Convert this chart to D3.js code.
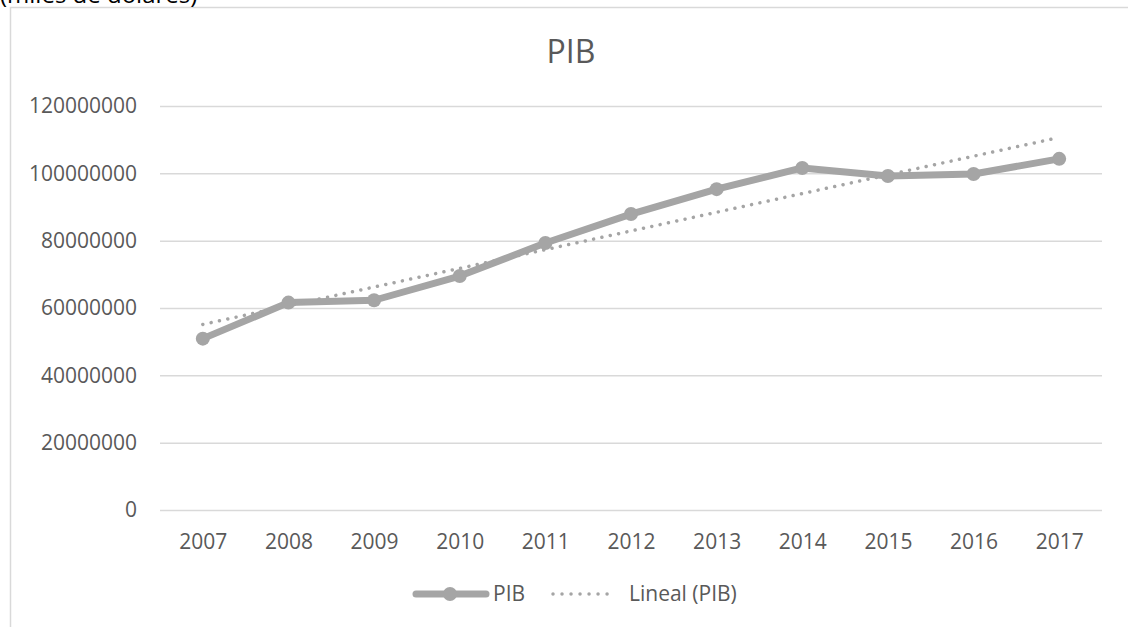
<!DOCTYPE html>
<html>
<head>
<meta charset="utf-8">
<script src="https://cdn.jsdelivr.net/npm/d3@7"></script>
<style>
  body { margin: 0; background: #fff; }
  svg { display: block; font-family: "Open Sans", sans-serif; }
  .tick text { fill: #595959; font-size: 21px; font-family: "Open Sans", sans-serif; }
</style>
</head>
<body>
<div id="chart"></div>
<script>
/* PIB line chart with linear trend */

const years = ["2007", "2008", "2009", "2010", "2011", "2012", "2013", "2014", "2015", "2016", "2017"];
const pib = [50900000, 61600000, 62300000, 69500000, 79300000, 87900000, 95300000, 101600000, 99200000, 99800000, 104300000];
const yTicks = [0, 20000000, 40000000, 60000000, 80000000, 100000000, 120000000];

const width = 1128,
    height = 627,
    margin = ({ top: 106, right: 26, bottom: 117, left: 160 });

const grey = "#a5a5a5";

const svg = d3.select("#chart")
    .append("svg")
    .attr("width", width)
    .attr("height", height)
    .attr("viewBox", [0, 0, width, height]);

// chart frame (only top and left edges visible)
svg.append("path")
    .attr("d", `M10.5,${height} V7.5 H${width}`)
    .attr("fill", "none")
    .attr("stroke", "#d9d9d9")
    .attr("stroke-width", 1.5);

// caption above the frame, cut by the top edge as in the source
svg.append("text")
    .attr("x", 0)
    .attr("y", 3)
    .attr("font-size", 24)
    .attr("fill", "#000")
    .text("(miles de dólares)");

let x = d3.scalePoint()
    .domain(years)
    .range([margin.left, width - margin.right])
    .padding(0.5);

let y = d3.scaleLinear()
    .domain([0, 120000000])
    .range([height - margin.bottom, margin.top]);

// y axis + gridlines
const yAxis = svg.append("g")
    .attr("transform", `translate(${margin.left},0)`)
    .call(d3.axisLeft(y).tickValues(yTicks).tickFormat(d3.format("d"))
        .tickSize(-(width - margin.left - margin.right)).tickPadding(23));
yAxis.select(".domain").remove();
yAxis.selectAll(".tick line").attr("stroke", "#d9d9d9").attr("stroke-width", 1.5);

// x axis labels
const xAxis = svg.append("g")
    .attr("transform", `translate(0,${height - margin.bottom})`)
    .call(d3.axisBottom(x).tickSize(0).tickPadding(24));
xAxis.select(".domain").remove();

// title
svg.append("text")
    .attr("x", 571)
    .attr("y", 63)
    .attr("text-anchor", "middle")
    .attr("font-size", 32)
    .attr("fill", "#595959")
    .text("PIB");

// linear trend (least squares, like Excel's "Lineal")
const n = pib.length,
    xs = d3.range(n),
    mx = d3.mean(xs),
    my = d3.mean(pib);
const slope = d3.sum(xs, i => (i - mx) * (pib[i] - my)) / d3.sum(xs, i => (i - mx) ** 2);
const icpt = my - slope * mx;
const trend = [0, n - 1].map(i => ({ year: years[i], v: icpt + slope * i }));

let line = d3.line()
    .x(d => x(d.year))
    .y(d => y(d.v));

const series = years.map((yr, i) => ({ year: yr, v: pib[i] }));

svg.append("path")
    .datum(series)
    .attr("d", line)
    .attr("fill", "none")
    .attr("stroke", grey)
    .attr("stroke-width", 7)
    .attr("stroke-linejoin", "round");

svg.append("path")
    .datum(trend)
    .attr("d", line)
    .attr("fill", "none")
    .attr("stroke", grey)
    .attr("stroke-width", 3.5)
    .attr("stroke-linecap", "round")
    .attr("stroke-dasharray", "0.01 8.5");

svg.selectAll(".dot")
    .data(series)
    .join("circle")
    .attr("class", "dot")
    .attr("cx", d => x(d.year))
    .attr("cy", d => y(d.v))
    .attr("r", 7)
    .attr("fill", grey);

// legend
const lg = svg.append("g").attr("transform", "translate(0,594)");
lg.append("line")
    .attr("x1", 416).attr("x2", 486)
    .attr("stroke", grey).attr("stroke-width", 7).attr("stroke-linecap", "round");
lg.append("circle").attr("cx", 450).attr("r", 7).attr("fill", grey);
lg.append("text")
    .attr("x", 493).attr("dy", "0.35em")
    .attr("font-size", 21).attr("fill", "#595959")
    .text("PIB");
lg.append("line")
    .attr("x1", 553).attr("x2", 616)
    .attr("stroke", grey).attr("stroke-width", 3.5)
    .attr("stroke-linecap", "round").attr("stroke-dasharray", "0.01 9");
lg.append("text")
    .attr("x", 629).attr("dy", "0.35em")
    .attr("font-size", 21).attr("fill", "#595959")
    .text("Lineal (PIB)");
</script>
</body>
</html>
